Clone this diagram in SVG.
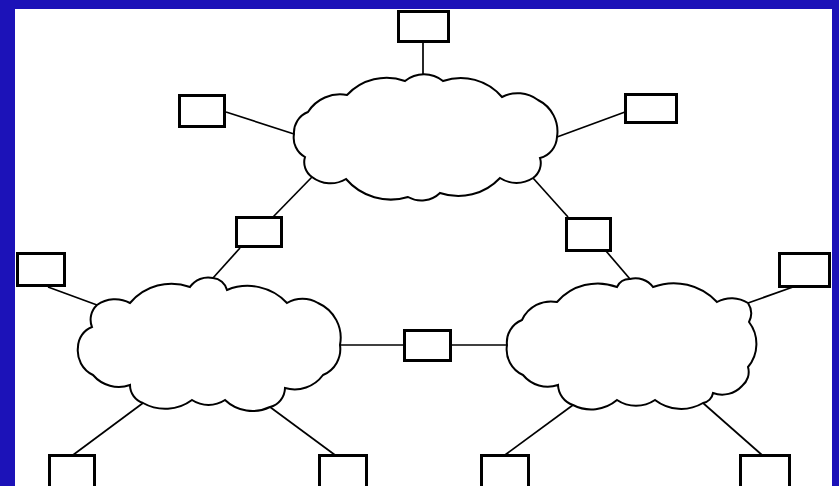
<svg xmlns="http://www.w3.org/2000/svg" width="839" height="486" viewBox="0 0 839 486">
<style>
.box{fill:#fff;stroke:#000;stroke-width:3}
.cloud{fill:#fff;stroke:#000;stroke-width:2;stroke-linejoin:miter}
.link{stroke:#000;stroke-width:1.7;fill:none}
</style>
<rect x="0" y="0" width="839" height="486" fill="#1c12b8"/>
<rect x="15" y="9" width="817" height="480" fill="#fff"/>
<g id="connectors">
<line class="link" x1="423" y1="43" x2="423" y2="75"/>
<line class="link" x1="226" y1="112" x2="294" y2="134"/>
<line class="link" x1="557" y1="137" x2="625" y2="112"/>
<line class="link" x1="312" y1="177" x2="273" y2="217"/>
<line class="link" x1="240" y1="248" x2="213" y2="278"/>
<line class="link" x1="533" y1="178" x2="568" y2="217"/>
<line class="link" x1="606" y1="251" x2="630" y2="279"/>
<line class="link" x1="48" y1="287" x2="97" y2="305"/>
<line class="link" x1="748" y1="303" x2="793" y2="287"/>
<line class="link" x1="340" y1="345" x2="404" y2="345"/>
<line class="link" x1="451" y1="345" x2="507" y2="345"/>
<line class="link" x1="143" y1="403" x2="73" y2="455"/>
<line class="link" x1="270" y1="407" x2="335" y2="455"/>
<line class="link" x1="573" y1="405" x2="505" y2="455"/>
<line class="link" x1="703" y1="403" x2="762" y2="455"/>
</g>
<g id="cloud-top">
<path class="cloud" d="M294,134 A22,22 0 0 1 308,112 A38,38 0 0 1 347,95 A54,54 0 0 1 405,81 A30,30 0 0 1 443,81 A54,54 0 0 1 502,97 A34,34 0 0 1 538,100 A35,35 0 0 1 557,137 A23,23 0 0 1 540,158 A18,18 0 0 1 533,178 A30,30 0 0 1 500,178 A57,57 0 0 1 440,193 A27,27 0 0 1 408,197 A59,59 0 0 1 346,179 A30,30 0 0 1 312,177 A18,18 0 0 1 305,157 A22,22 0 0 1 294,134 Z"/>
</g>
<g id="cloud-left">
<path class="cloud" d="M78,347 A22,22 0 0 1 92,327 A20,20 0 0 1 97,305 A31,31 0 0 1 130,303 A54,54 0 0 1 190,287 A22,22 0 0 1 213,278 A16,16 0 0 1 227,290 A54,54 0 0 1 287,303 A30,30 0 0 1 318,303 A38,38 0 0 1 340,345 A28,28 0 0 1 323,375 A35,35 0 0 1 285,388 A20,20 0 0 1 270,407 A40,40 0 0 1 225,400 A30,30 0 0 1 192,400 A45,45 0 0 1 143,403 A19,19 0 0 1 130,385 A34,34 0 0 1 93,375 A27,27 0 0 1 78,347 Z"/>
</g>
<g id="cloud-right">
<path class="cloud" d="M507,345 A24,24 0 0 1 522,320 A32,32 0 0 1 557,302 A54,54 0 0 1 617,287 A14,14 0 0 1 630,279 A22,22 0 0 1 653,287 A59,59 0 0 1 717,302 A30,30 0 0 1 748,303 A19,19 0 0 1 749,322 A36,36 0 0 1 748,367 A18,18 0 0 1 742,386 A27,27 0 0 1 713,393 A12,12 0 0 1 703,403 A43,43 0 0 1 655,400 A34,34 0 0 1 617,400 A40,40 0 0 1 573,405 A22,22 0 0 1 558,385 A32,32 0 0 1 523,375 A28,28 0 0 1 507,345 Z"/>
</g>
<g id="node-top"><rect class="box" x="398.5" y="11.5" width="50" height="30"/></g>
<g id="node-upper-left"><rect class="box" x="179.5" y="95.5" width="45" height="31"/></g>
<g id="node-upper-right"><rect class="box" x="625.5" y="94.5" width="51" height="28"/></g>
<g id="node-mid-left"><rect class="box" x="236.5" y="217.5" width="45" height="29"/></g>
<g id="node-mid-right"><rect class="box" x="566.5" y="218.5" width="44" height="32"/></g>
<g id="node-far-left"><rect class="box" x="17.5" y="253.5" width="47" height="32"/></g>
<g id="node-far-right"><rect class="box" x="779.5" y="253.5" width="50" height="33"/></g>
<g id="node-center"><rect class="box" x="404.5" y="330.5" width="46" height="30"/></g>
<g id="node-bottom-1"><rect class="box" x="49.5" y="455.5" width="45" height="40"/></g>
<g id="node-bottom-2"><rect class="box" x="319.5" y="455.5" width="47" height="40"/></g>
<g id="node-bottom-3"><rect class="box" x="481.5" y="455.5" width="47" height="40"/></g>
<g id="node-bottom-4"><rect class="box" x="740.5" y="455.5" width="49" height="40"/></g>
</svg>
